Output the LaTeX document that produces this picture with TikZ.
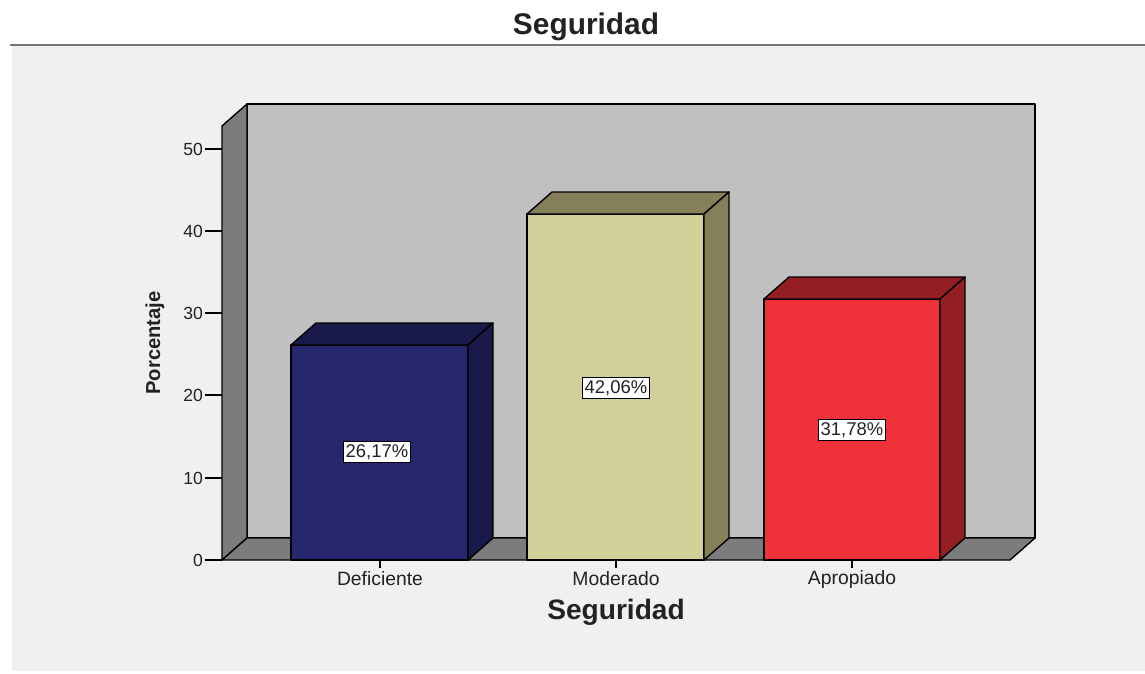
\documentclass[tikz,border=0pt]{standalone}
\usepackage{fontspec}
\setmainfont{Liberation Sans}
\definecolor{bggray}{HTML}{F0F0F0}
\definecolor{wallgray}{HTML}{C0C0C0}
\definecolor{sidegray}{HTML}{7C7C7C}
\definecolor{defblue}{HTML}{272770}
\definecolor{defbluedk}{HTML}{1A1A4A}
\definecolor{modkhaki}{HTML}{D3CF98}
\definecolor{modkhakidk}{HTML}{858059}
\definecolor{apred}{HTML}{F0313A}
\definecolor{apreddk}{HTML}{931F24}
\definecolor{txtgray}{HTML}{222222}
\begin{document}
\begin{tikzpicture}[x=0.02cm, y=-0.02cm,
  edge/.style={draw=black, line width=0.8pt, line join=round},
  ticklbl/.style={text=txtgray, font=\fontsize{10}{12}\selectfont, anchor=east, inner sep=1pt},
  catlbl/.style={text=txtgray, font=\fontsize{11}{13}\selectfont},
  pctbox/.style={draw=black, fill=white, line width=0.6pt, inner sep=1.5pt, text=txtgray, font=\fontsize{10.5}{12}\selectfont}]
\useasboundingbox (0,0) rectangle (1145,673);
\fill[white] (0,0) rectangle (1145,673);
\fill[bggray] (12,46) rectangle (1145,671);
\draw[line width=1.2pt, color=gray!90!black] (10,45) -- (1145,45);
\node[font=\bfseries\fontsize{17}{20}\selectfont, text=txtgray] (title) at (586,27) {Seguridad};
% walls and floor
\draw[edge, fill=wallgray] (247,104) rectangle (1035,538);
\draw[edge, fill=sidegray] (222,126) -- (247,104) -- (247,538) -- (222,560) -- cycle;
\draw[edge, fill=sidegray] (222,560) -- (247,538) -- (1035,538) -- (1010,560) -- cycle;
% y axis ticks
\draw[edge] (205,560) -- (222,560);
\draw[edge] (205,478) -- (222,478);
\draw[edge] (205,395) -- (222,395);
\draw[edge] (205,313) -- (222,313);
\draw[edge] (205,231) -- (222,231);
\draw[edge] (205,149) -- (222,149);
\node[ticklbl] (t0) at (205,560) {0};
\node[ticklbl] (t10) at (205,478) {10};
\node[ticklbl] (t20) at (205,395) {20};
\node[ticklbl] (t30) at (205,313) {30};
\node[ticklbl] (t40) at (205,231) {40};
\node[ticklbl] (t50) at (205,149) {50};
\node[rotate=90, font=\bfseries\fontsize{11.5}{13}\selectfont, text=txtgray] (ytitle) at (155,343) {Porcentaje};
% Deficiente
\draw[edge, fill=defblue] (291,345) rectangle (468,560);
\draw[edge, fill=defbluedk] (291,345) -- (316,323) -- (493,323) -- (468,345) -- cycle;
\draw[edge, fill=defbluedk] (468,345) -- (493,323) -- (493,538) -- (468,560) -- cycle;
\node[pctbox] (pdef) at (377,452) {26,17\%};
% Moderado
\draw[edge, fill=modkhaki] (527,214) rectangle (704,560);
\draw[edge, fill=modkhakidk] (527,214) -- (552,192) -- (729,192) -- (704,214) -- cycle;
\draw[edge, fill=modkhakidk] (704,214) -- (729,192) -- (729,538) -- (704,560) -- cycle;
\node[pctbox] (pmod) at (616,388) {42,06\%};
% Apropiado
\draw[edge, fill=apred] (764,299) rectangle (940,560);
\draw[edge, fill=apreddk] (764,299) -- (789,277) -- (965,277) -- (940,299) -- cycle;
\draw[edge, fill=apreddk] (940,299) -- (965,277) -- (965,538) -- (940,560) -- cycle;
\node[pctbox] (papr) at (852,430) {31,78\%};
% x axis
\draw[edge] (380,560) -- (380,568);
\draw[edge] (616,560) -- (616,568);
\draw[edge] (852,560) -- (852,568);
\node[catlbl] (cdef) at (380,579) {Deficiente};
\node[catlbl] (cmod) at (616,579) {Moderado};
\node[catlbl] (capr) at (852,579) {Apropiado};
\node[font=\bfseries\fontsize{16}{19}\selectfont, text=txtgray] (xtitle) at (616,612) {Seguridad};
\end{tikzpicture}
\end{document}
